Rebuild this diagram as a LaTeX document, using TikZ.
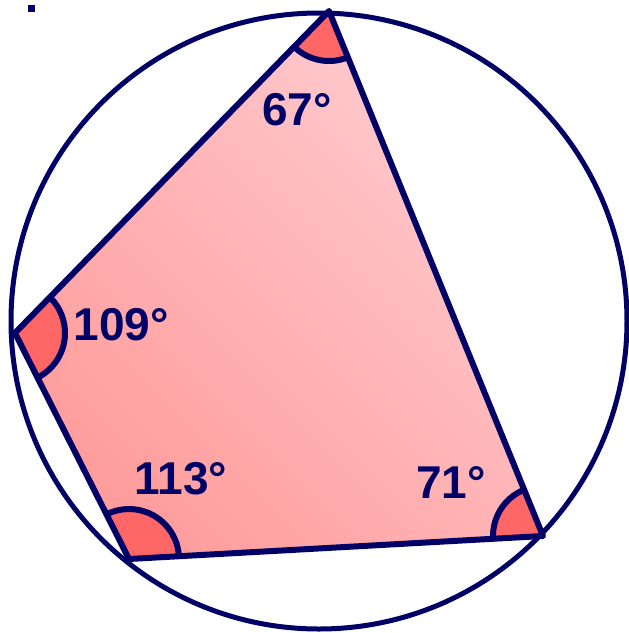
\documentclass[tikz,border=0pt]{standalone}
\usepackage{fontspec}
\setmainfont{Liberation Sans}
\definecolor{navy}{RGB}{0,0,102}
\definecolor{sectorred}{RGB}{255,102,102}
\definecolor{pinkdark}{RGB}{255,156,156}
\definecolor{pinklight}{RGB}{255,204,208}
\begin{document}
\begin{tikzpicture}[x=1pt,y=1pt,
  edge/.style={draw=navy,line width=6pt,line join=round},
  sector/.style={fill=sectorred},
  arcline/.style={draw=navy,line width=6pt},
  anglabel/.style={font=\fontsize{46}{54}\selectfont\bfseries,text=navy,inner sep=0pt}]
\useasboundingbox (0,0) rectangle (629,-633);
\coordinate (T) at (329,-11);
\coordinate (L) at (15,-333);
\coordinate (B) at (129,-559);
\coordinate (R) at (543,-536);
\coordinate (O) at (319,-321);
\node[fill=navy,minimum size=7pt,inner sep=0pt] (dot) at (31.5,-8.5) {};
\draw[edge,line width=5pt] (O) circle[radius=308];
\shade[left color=pinkdark,right color=pinklight,shading angle=135] (T) -- (L) -- (B) -- (R) -- cycle;
% sectors
\fill[sector] (T) -- ++(225.7:50) arc[start angle=225.7,end angle=292.2,radius=50] -- cycle;
\draw[arcline] (T) ++(225.7:50) arc[start angle=225.7,end angle=292.2,radius=50];
\fill[sector] (L) -- ++(-63.2:50) arc[start angle=-63.2,end angle=45.7,radius=50] -- cycle;
\draw[arcline] (L) ++(-63.2:50) arc[start angle=-63.2,end angle=45.7,radius=50];
\fill[sector] (B) -- ++(3.2:50) arc[start angle=3.2,end angle=116.8,radius=50] -- cycle;
\draw[arcline] (B) ++(3.2:50) arc[start angle=3.2,end angle=116.8,radius=50];
\fill[sector] (R) -- ++(112.2:50) arc[start angle=112.2,end angle=183.2,radius=50] -- cycle;
\draw[arcline] (R) ++(112.2:50) arc[start angle=112.2,end angle=183.2,radius=50];
\draw[edge] (T) -- (L) -- (B) -- (R) -- cycle;
\node[anglabel] (a67) at (297,-110) {67°};
\node[anglabel] (a109) at (121,-325) {109°};
\node[anglabel] (a113) at (181,-479) {113°};
\node[anglabel] (a71) at (451,-482) {71°};
\end{tikzpicture}
\end{document}
